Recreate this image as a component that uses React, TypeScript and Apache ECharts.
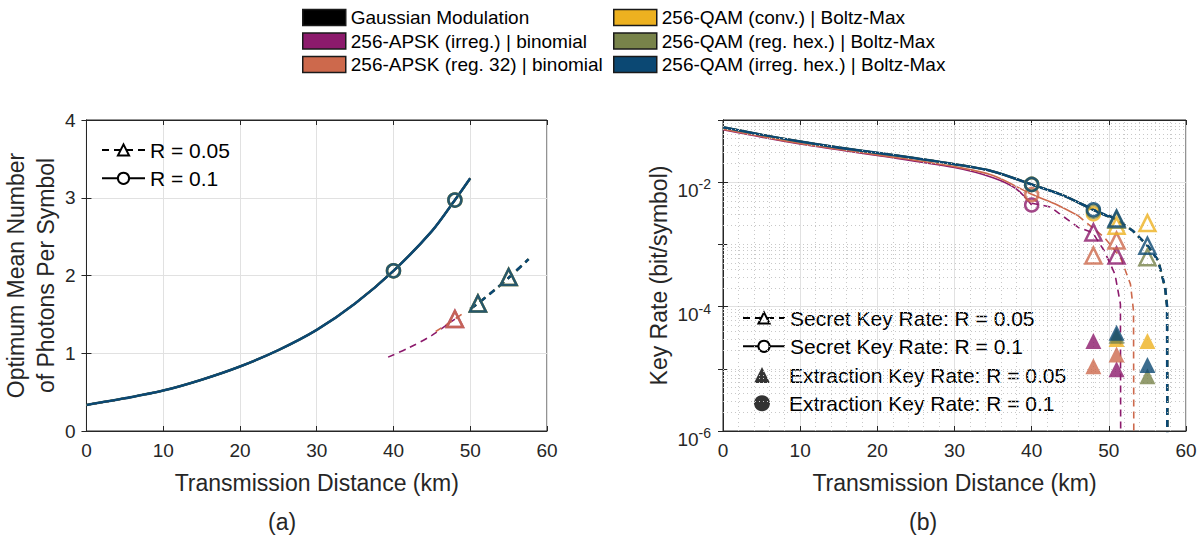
import React, { useEffect, useRef } from 'react';
import * as echarts from 'echarts';

const MOD_NAMES = [
  'Gaussian Modulation',
  '256-APSK (irreg.) | binomial',
  '256-APSK (reg. 32) | binomial',
  '256-QAM (conv.) | Boltz-Max',
  '256-QAM (reg. hex.) | Boltz-Max',
  '256-QAM (irreg. hex.) | Boltz-Max',
];
const MOD_COLORS = ['#000000', '#8c1a6c', '#cd694c', '#edb120', '#78834a', '#0b4873'];

// ---------- (a) optimum mean number of photons ----------
const PH_R01_DIST = [0, 5, 10, 15, 20, 25, 30, 35, 40, 45, 48, 50];
const PH_R01 = [0.335, 0.42, 0.52, 0.66, 0.83, 1.04, 1.3, 1.64, 2.06, 2.57, 2.97, 3.25];
const PH_R05_APSK_IRR_DIST = [39.3, 42, 45, 48];
const PH_R05_APSK_IRR = [0.95, 1.07, 1.23, 1.44];
const PH_R05_APSK_REG_DIST = [45.5, 48, 49];
const PH_R05_APSK_REG = [1.28, 1.44, 1.51];
const PH_R05_QAM_DIST = [50, 51, 53, 55, 57.6];
const PH_R05_QAM = [1.57, 1.64, 1.8, 1.97, 2.21];
// markers per modulation: [distance, value]
const PH_CIRCLES = [[], [], [], [[40, 2.06], [48, 2.97]], [[40, 2.06], [48, 2.97]], [[40, 2.06], [48, 2.97]]];
const PH_TRIANGLES = [[], [[48, 1.44]], [[48, 1.44]], [[51, 1.64], [55, 1.98]], [[51, 1.64], [55, 1.98]], [[51, 1.64], [55, 1.98]]];

// ---------- (b) key rate ----------
const KR_R01_QAM_DIST = [0, 5, 10, 15, 20, 25, 30, 35, 40, 44, 48, 50];
const KR_R01_QAM = [0.0767, 0.058, 0.045, 0.036, 0.0296, 0.0242, 0.0195, 0.0149, 0.0092, 0.0062, 0.0036, 0.0028];
const KR_R01_APSK_IRR_DIST = [0, 10, 20, 30, 35, 38, 40];
const KR_R01_APSK_IRR = [0.0695, 0.041, 0.027, 0.0172, 0.0118, 0.0078, 0.0043];
const KR_R01_APSK_REG_DIST = [0, 10, 20, 30, 35, 40, 43, 46];
const KR_R01_APSK_REG = [0.071, 0.042, 0.0275, 0.0178, 0.0128, 0.0064, 0.0045, 0.0029];
const KR_R05_APSK_IRR_DIST = [40, 42.4, 46.1, 47.9, 49.4, 50.8, 51.5, 51.55];
const KR_R05_APSK_IRR = [0.0046, 0.004, 0.00186, 0.00155, 0.00079, 0.00033, 0.00011, 1e-7];
const KR_R05_APSK_REG_DIST = [46, 49.4, 51.5, 52.8, 53.2, 53.25];
const KR_R05_APSK_REG = [0.0029, 0.0013, 0.00062, 0.00023, 0.000085, 1e-7];
const KR_R05_QAM_DIST = [50, 51, 53.1, 55.1, 56.4, 57.3, 57.55, 57.6];
const KR_R05_QAM = [0.0029, 0.0025, 0.00166, 0.00093, 0.00055, 0.0002, 0.0001, 1e-7];
const KR_SECRET_R01_MARKS = [[], [[40, 0.0043]], [[40, 0.0063]], [[40, 0.0092], [48, 0.0031]], [[40, 0.0092], [48, 0.0034]], [[40, 0.0092], [48, 0.0036]]];
const KR_SECRET_R05_MARKS = [[], [[48, 0.00156], [51, 0.00066]], [[48, 0.00066], [51, 0.00115]], [[51, 0.002], [55, 0.0022]], [[51, 0.0025], [55, 0.00062]], [[51, 0.0026], [55, 0.00095]]];
const KR_EXTRACT_R05_MARKS = [[], [[48, 2.8e-5], [51, 9.8e-6]], [[48, 1.1e-5], [51, 1.7e-5]], [[51, 3.0e-5], [55, 2.8e-5]], [[51, 3.4e-5], [55, 7.6e-6]], [[51, 3.8e-5], [55, 1.15e-5]]];

const X_MIN = 0;
const X_MAX = 60;
const Y_LOG_MIN = 1e-6;
const Y_LOG_MAX = 1e-1;

const FONT = 'Liberation Sans, Arial, sans-serif';
const AXIS_COLOR = '#262626';
const GRID_COLOR = '#e1e1e1';
const MINOR_COLOR = '#c8c8c8';

const zip = (xs: number[], ys: number[]) => xs.map((x, i) => [x, ys[i]]);

function lineSeries(name: string, color: string, data: number[][], axis: number, dashed: boolean, width: number, smooth: number | boolean) {
  return {
    type: 'line', name, xAxisIndex: axis, yAxisIndex: axis, data,
    symbol: 'none', showSymbol: false, silent: true, clip: true, smooth,
    lineStyle: { color, width, type: dashed ? [7, 5] : 'solid' },
    itemStyle: { color }, z: 3,
  };
}
function markSeries(name: string, color: string, data: number[][], axis: number, symbol: string, filled: boolean, size: number) {
  return {
    type: 'scatter', name, xAxisIndex: axis, yAxisIndex: axis, data, symbol, symbolSize: size, silent: true,
    itemStyle: filled ? { color } : { color: 'rgba(0,0,0,0)', borderColor: color, borderWidth: 2.5 },
    z: 5,
  };
}

function buildOption() {
  const series: any[] = [];
  // minor (dotted) grid for (b)
  const minorMarks: any[] = [];
  for (let e = -6; e <= -2; e++) {
    for (let m = 1; m <= 9; m++) {
      if (m === 1 && e % 2 === 0) continue;
      const y = m * Math.pow(10, e);
      minorMarks.push([{ coord: [X_MIN, y] }, { coord: [X_MAX, y] }]);
    }
  }
  for (let x = 2; x < X_MAX; x += 2) {
    if (x % 10 !== 0) minorMarks.push([{ coord: [x, Y_LOG_MIN] }, { coord: [x, Y_LOG_MAX] }]);
  }
  series.push({
    type: 'line', name: 'minor-grid', xAxisIndex: 2, yAxisIndex: 2, data: [], silent: true, z: 1,
    markLine: {
      silent: true, symbol: ['none', 'none'], animation: false, label: { show: false },
      lineStyle: { color: MINOR_COLOR, type: [1, 3], width: 1 }, data: minorMarks,
    },
  });

  for (let i = 0; i < 6; i++) {
    const c = MOD_COLORS[i];
    const n = MOD_NAMES[i];
    const apsk = i === 1 || i === 2;
    const w = apsk ? 1.6 : i === 5 ? 2.6 : 2.0;
    // (a)
    series.push(lineSeries(n, c, zip(PH_R01_DIST, PH_R01), 0, false, w, 0.3));
    const phR05 = i === 1 ? zip(PH_R05_APSK_IRR_DIST, PH_R05_APSK_IRR)
      : i === 2 ? zip(PH_R05_APSK_REG_DIST, PH_R05_APSK_REG)
      : zip(PH_R05_QAM_DIST, PH_R05_QAM);
    series.push(lineSeries(n, c, phR05, 0, true, w, 0.3));
    // (b)
    const krR01 = i === 1 ? zip(KR_R01_APSK_IRR_DIST, KR_R01_APSK_IRR)
      : i === 2 ? zip(KR_R01_APSK_REG_DIST, KR_R01_APSK_REG)
      : zip(KR_R01_QAM_DIST, KR_R01_QAM);
    series.push(lineSeries(n, c, krR01, 2, false, w, 0.3));
    const krR05 = i === 1 ? zip(KR_R05_APSK_IRR_DIST, KR_R05_APSK_IRR)
      : i === 2 ? zip(KR_R05_APSK_REG_DIST, KR_R05_APSK_REG)
      : zip(KR_R05_QAM_DIST, KR_R05_QAM);
    series.push(lineSeries(n, c, krR05, 2, true, w, false));
  }
  for (let i = 0; i < 6; i++) {
    const c = MOD_COLORS[i];
    const n = MOD_NAMES[i];
    series.push(markSeries(n, c, PH_CIRCLES[i], 0, 'circle', false, 13));
    series.push(markSeries(n, c, PH_TRIANGLES[i], 0, 'triangle', false, 16));
    series.push(markSeries(n, c, KR_SECRET_R01_MARKS[i], 2, 'circle', false, 13));
    series.push(markSeries(n, c, KR_SECRET_R05_MARKS[i], 2, 'triangle', false, 16));
    series.push(markSeries(n, c, KR_EXTRACT_R05_MARKS[i], 2, 'triangle', true, 16));
  }
  // legend-only series
  const dashLeg = (name: string, axis: number) => ({
    type: 'line', name, xAxisIndex: axis, yAxisIndex: axis, data: [], symbol: 'emptyTriangle', symbolSize: 12,
    lineStyle: { color: '#000', width: 2.2, type: [7, 5] }, itemStyle: { color: '#000', borderWidth: 2.2 },
  });
  const solidLeg = (name: string, axis: number) => ({
    type: 'line', name, xAxisIndex: axis, yAxisIndex: axis, data: [], symbol: 'emptyCircle', symbolSize: 12,
    lineStyle: { color: '#000', width: 2.2 }, itemStyle: { color: '#000', borderWidth: 2.2 },
  });
  series.push(dashLeg('R = 0.05', 0));
  series.push(solidLeg('R = 0.1', 0));
  series.push(dashLeg('Secret Key Rate: R = 0.05', 2));
  series.push(solidLeg('Secret Key Rate: R = 0.1', 2));
  series.push({ type: 'scatter', name: 'Extraction Key Rate: R = 0.05', xAxisIndex: 2, yAxisIndex: 2, data: [], symbol: 'triangle', symbolSize: 16, itemStyle: { color: '#000' } });
  series.push({ type: 'scatter', name: 'Extraction Key Rate: R = 0.1', xAxisIndex: 2, yAxisIndex: 2, data: [], symbol: 'circle', symbolSize: 16, itemStyle: { color: '#000' } });

  const tickLabel = { fontSize: 19, color: AXIS_COLOR, fontFamily: FONT };
  const nameStyle = { fontSize: 23, color: AXIS_COLOR, fontFamily: FONT };
  const xAxis = (gridIndex: number, top: boolean) => ({
    type: 'value', gridIndex, min: X_MIN, max: X_MAX, interval: 10,
    position: top ? 'top' : 'bottom',
    axisLine: { show: true, onZero: false, lineStyle: { color: AXIS_COLOR, width: 1 } },
    axisTick: { show: true, inside: true, length: 5, lineStyle: { color: AXIS_COLOR } },
    axisLabel: top ? { show: false } : { ...tickLabel, margin: 10 },
    splitLine: { show: !top, lineStyle: { color: GRID_COLOR, width: 1 } },
    name: top ? '' : 'Transmission Distance (km)', nameLocation: 'middle', nameGap: 40,
    nameTextStyle: nameStyle,
  });
  const supFmt = (v: number) => {
    const e = Math.round(Math.log10(v));
    if (e % 2 !== 0) return '';
    return '{b|10}{s|' + e + '}';
  };
  const logAxis = (right: boolean) => ({
    type: 'log', gridIndex: 1, logBase: 10, min: Y_LOG_MIN, max: Y_LOG_MAX, position: right ? 'right' : 'left',
    axisLine: { show: true, lineStyle: { color: AXIS_COLOR, width: 1 } },
    axisTick: { show: true, inside: true, length: 5, lineStyle: { color: AXIS_COLOR } },
    axisLabel: right ? { show: false } : {
      formatter: supFmt, margin: 12, color: AXIS_COLOR, fontFamily: FONT, padding: [16, 0, 0, 0],
      rich: {
        b: { fontSize: 19, lineHeight: 26, fontFamily: FONT, color: AXIS_COLOR },
        s: { fontSize: 14, lineHeight: 15, verticalAlign: 'top', fontFamily: FONT, color: AXIS_COLOR },
      },
    },
    splitLine: { show: !right, lineStyle: { color: [GRID_COLOR, 'rgba(0,0,0,0)'], width: 1 } },
    name: right ? '' : 'Key Rate (bit/symbol)', nameLocation: 'middle', nameGap: 53, nameRotate: 90,
    nameTextStyle: nameStyle,
  });
  const linAxis = (right: boolean) => ({
    type: 'value', gridIndex: 0, min: 0, max: 4, interval: 1, position: right ? 'right' : 'left',
    axisLine: { show: true, lineStyle: { color: AXIS_COLOR, width: 1 } },
    axisTick: { show: true, inside: true, length: 5, lineStyle: { color: AXIS_COLOR } },
    axisLabel: right ? { show: false } : { ...tickLabel, margin: 11 },
    splitLine: { show: !right, lineStyle: { color: GRID_COLOR, width: 1 } },
    name: right ? '' : 'Optimum Mean Number\nof Photons Per Symbol', nameLocation: 'middle', nameGap: 21, nameRotate: 90,
    nameTextStyle: { ...nameStyle, lineHeight: 30 },
  });

  const topLegend = (left: number, names: string[]) => ({
    orient: 'vertical', left, top: 8, padding: 0, itemWidth: 43, itemHeight: 16, itemGap: 4.5, icon: 'rect', selectedMode: false,
    itemStyle: { borderColor: '#1a1a1a', borderWidth: 1.5 },
    textStyle: { fontSize: 19, lineHeight: 19, color: '#000', fontFamily: FONT },
    data: names,
  });
  const innerLegend = (left: number, top: number, names: string[], itemWidth: number, itemHeight: number, padLeft: number) => ({
    orient: 'vertical', left, top, padding: 0, itemWidth, itemHeight, itemGap: 6.3, selectedMode: false,
    textStyle: { fontSize: 21, lineHeight: 22, color: '#000', fontFamily: FONT, padding: [0, 0, 0, padLeft] },
    data: names,
  });

  return {
    animation: false,
    backgroundColor: '#ffffff',
    grid: [
      { left: 84, top: 120, width: 463, height: 311, show: true, borderColor: AXIS_COLOR, borderWidth: 1, backgroundColor: 'transparent' },
      { left: 723, top: 120, width: 463, height: 311, show: true, borderColor: AXIS_COLOR, borderWidth: 1, backgroundColor: 'transparent' },
    ],
    xAxis: [xAxis(0, false), xAxis(0, true), xAxis(1, false), xAxis(1, true)],
    yAxis: [linAxis(false), linAxis(true), logAxis(false), logAxis(true)],
    legend: [
      topLegend(302, MOD_NAMES.slice(0, 3)),
      topLegend(613, MOD_NAMES.slice(3, 6)),
      innerLegend(101, 139, ['R = 0.05', 'R = 0.1'], 43, 14, 0),
      innerLegend(742, 307, ['Secret Key Rate: R = 0.05', 'Secret Key Rate: R = 0.1'], 42, 14, 0),
      innerLegend(754, 364, ['Extraction Key Rate: R = 0.05', 'Extraction Key Rate: R = 0.1'], 16, 16, 14),
    ],
    graphic: [
      { type: 'text', left: 268, top: 510, style: { text: '(a)', fontSize: 23, fill: AXIS_COLOR, fontFamily: FONT } },
      { type: 'text', left: 909, top: 510, style: { text: '(b)', fontSize: 23, fill: AXIS_COLOR, fontFamily: FONT } },
    ],
    series,
  };
}

export default function App() {
  const ref = useRef<HTMLDivElement>(null);
  useEffect(() => {
    document.body.style.margin = '0';
    const chart = echarts.init(ref.current!, null, { renderer: 'svg' });
    chart.setOption(buildOption() as any);
    return () => chart.dispose();
  }, []);
  return <div ref={ref} style={{ width: 1202, height: 537 }} />;
}
